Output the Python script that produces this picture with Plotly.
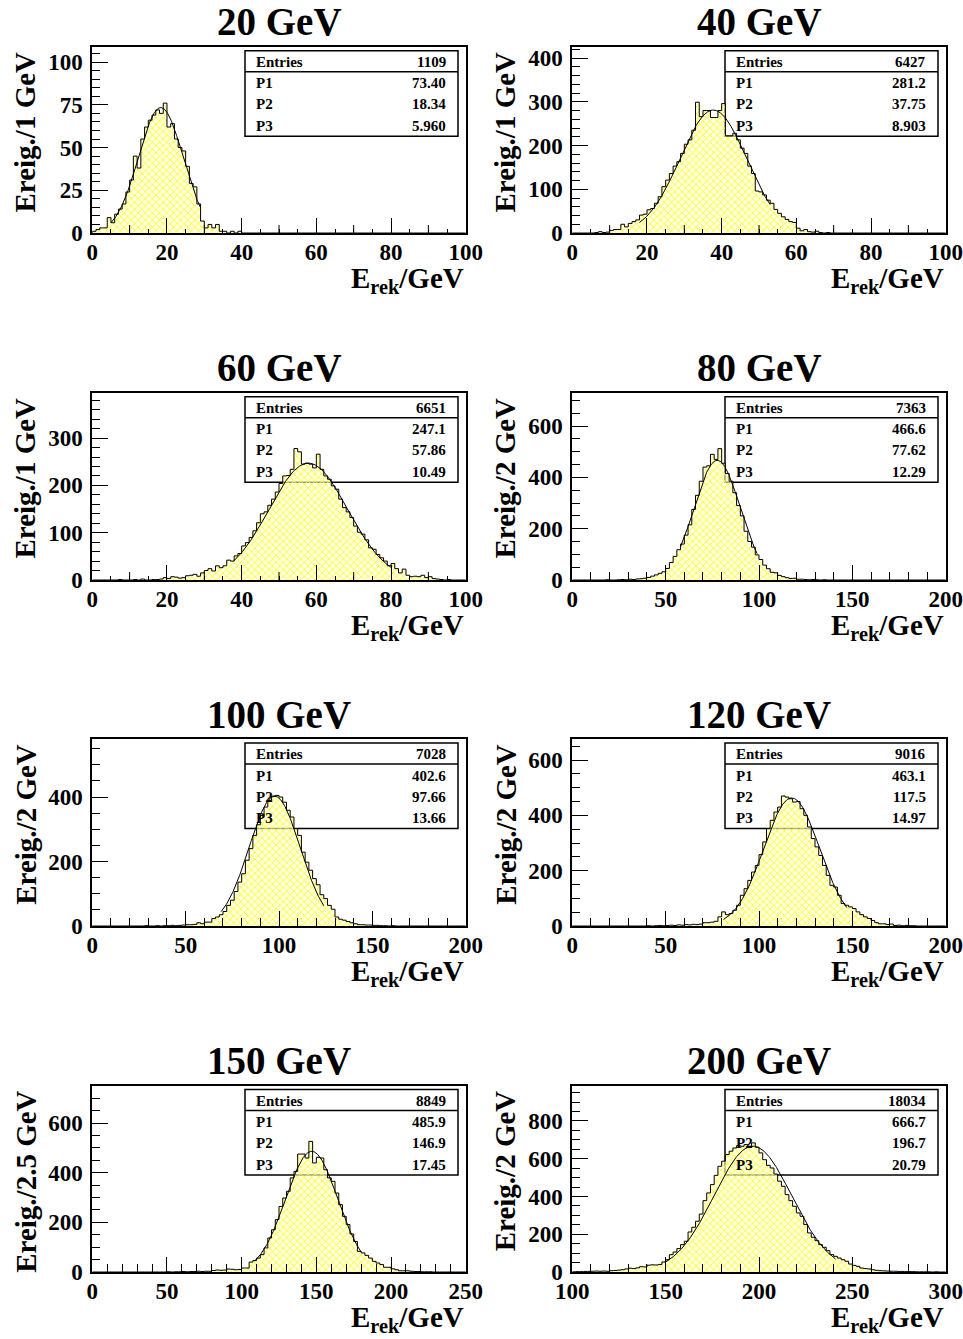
import numpy as np
import plotly.graph_objects as go

W, H = 963, 1339
FONT = "Liberation Serif"

# ---------------- data ----------------
titles = ["20 GeV", "40 GeV", "60 GeV", "80 GeV", "100 GeV", "120 GeV", "150 GeV", "200 GeV"]
ytitles = ["Ereig./1 GeV", "Ereig./1 GeV", "Ereig./1 GeV", "Ereig./2 GeV",
           "Ereig./2 GeV", "Ereig./2 GeV", "Ereig./2.5 GeV", "Ereig./2 GeV"]
x_lo = [0, 0, 0, 0, 0, 0, 0, 100]
x_hi = [100, 100, 100, 200, 200, 200, 250, 300]
y_hi = [109, 426, 396, 730, 580, 676, 751, 988]
n_bins = 100

entries = [1109, 6427, 6651, 7363, 7028, 9016, 8849, 18034]
p1 = [73.40, 281.2, 247.1, 466.6, 402.6, 463.1, 485.9, 666.7]
p2 = [18.34, 37.75, 57.86, 77.62, 97.66, 117.5, 146.9, 196.7]
p3 = [5.960, 8.903, 10.49, 12.29, 13.66, 14.97, 17.45, 20.79]
fit_lo = [5, 18, 38, 58, 69, 81, 109, 150]
fit_hi = [29, 53, 80, 99, 124, 147, 180, 241]

# bin contents (first populated bin index, then counts)
start_20 = 0
counts_20 = [1, 2, 3, 3, 9, 6, 11, 14, 17, 24, 31, 45, 38, 55, 62, 66, 69, 72, 70, 76,
             62, 64, 55, 50, 48, 39, 29, 27, 17, 7, 3, 5, 3, 5, 1, 1, 0, 1, 0, 1]
start_40 = 0
counts_40 = [0, 0, 0, 0, 0, 0, 1, 3, 1, 2, 6, 8, 8, 20, 14, 22, 26, 30, 41, 43,
             53, 56, 68, 83, 106, 121, 136, 153, 163, 182, 203, 213, 235, 299, 266, 280, 280, 264, 264, 280,
             296, 222, 222, 228, 213, 194, 182, 153, 136, 96, 94, 87, 75, 68, 54, 45, 37, 31, 26, 24,
             11, 5, 8, 3, 2, 4, 1, 0, 1]
start_60 = 0
counts_60 = [0, 0, 0, 0, 0, 0, 0, 1, 0, 0, 0, 1, 0, 2, 0, 0, 1, 1, 2, 5,
             3, 7, 6, 4, 5, 9, 10, 12, 8, 15, 20, 24, 19, 30, 26, 30, 42, 40, 51, 56,
             72, 79, 90, 104, 121, 140, 144, 158, 171, 186, 204, 220, 221, 234, 278, 271, 245, 247, 245, 237,
             266, 234, 220, 213, 199, 192, 171, 153, 144, 132, 114, 101, 97, 85, 68, 65, 54, 47, 40, 30,
             35, 24, 15, 23, 10, 7, 8, 7, 10, 5, 7, 3, 2, 1, 0, 1]
start_80 = 0
counts_80 = [0, 0, 0, 0, 0, 0, 0, 0, 0, 1, 0, 0, 1, 2, 1, 3, 2, 4, 5, 7,
             10, 15, 20, 26, 32, 45, 68, 92, 118, 140, 175, 215, 275, 330, 385, 440, 445, 490, 470, 512,
             455, 415, 385, 340, 290, 250, 190, 150, 128, 98, 80, 58, 44, 30, 28, 18, 13, 9, 6, 7,
             3, 3, 2, 1, 2, 1, 0, 1]
start_100 = 14
counts_100 = [1, 0, 0, 1, 0, 1, 1, 2, 1, 2, 3, 4, 4, 5, 10, 7, 12, 12,
              23, 28, 35, 45, 64, 80, 107, 136, 162, 204, 240, 281, 314, 343, 369, 390, 403, 405, 400, 384,
              359, 338, 302, 281, 229, 198, 173, 147, 128, 97, 85, 64, 52, 28, 21, 18, 14, 10, 7, 4,
              4, 3, 3, 2, 2, 1, 1, 0, 1]
start_120 = 20
counts_120 = [1, 0, 1, 2, 1, 2, 3, 2, 4, 3, 5, 4, 6, 5, 7, 12, 12, 14, 17, 33,
              51, 41, 45, 57, 75, 111, 135, 165, 195, 219, 258, 304, 352, 382, 412, 430, 470, 466, 460, 448,
              450, 424, 400, 358, 316, 286, 255, 219, 183, 147, 141, 111, 81, 75, 69, 63, 51, 41, 33, 27,
              20, 12, 8, 8, 5, 7, 2, 3, 1, 2, 1, 1]
start_150 = 20
counts_150 = [1, 0, 1, 1, 2, 1, 2, 2, 3, 2, 3, 3, 6, 8, 7, 8, 12, 11, 9, 10,
              16, 16, 40, 46, 56, 70, 97, 137, 170, 211, 264, 298, 325, 379, 405, 475, 475, 459, 526, 439,
              462, 459, 412, 379, 365, 318, 271, 224, 191, 153, 123, 83, 77, 67, 56, 43, 36, 30, 19, 19,
              13, 9, 5, 5, 5, 3, 2, 2, 1, 1, 1]
start_200 = 0
counts_200 = [1, 2, 2, 3, 3, 4, 5, 4, 5, 4, 7, 8, 10, 12, 16, 20, 18, 22, 28, 27,
              36, 38, 37, 40, 53, 65, 92, 106, 124, 145, 163, 212, 237, 269, 307, 378, 419, 463, 512, 560,
              587, 622, 640, 657, 670, 666, 675, 666, 684, 661, 631, 595, 565, 551, 519, 481, 454, 410, 378, 348,
              313, 295, 251, 207, 184, 166, 145, 131, 113, 92, 83, 74, 65, 57, 42, 35, 30, 21, 18, 16,
              12, 9, 7, 6, 5, 4, 4, 3, 3, 2, 2, 2, 1, 1, 1, 1, 0, 1]

starts = [start_20, start_40, start_60, start_80, start_100, start_120, start_150, start_200]
counts_all = [counts_20, counts_40, counts_60, counts_80, counts_100, counts_120, counts_150, counts_200]

# axis tick settings
x_major = [20, 20, 20, 50, 50, 50, 50, 50]
x_minor = [5, 5, 5, 10, 10, 10, 10, 10]
x_mid = [10, 10, 10, None, None, None, None, None]
y_major = [25, 100, 100, 200, 200, 200, 200, 200]
y_minor = [5, 20, 20, 50, 50, 50, 50, 50]

# ---------------- layout geometry (pixels) ----------------
col_left = [92.3, 572.3]
col_right = [465.7, 945.7]
row_top = [46.7, 392.7, 739.0, 1085.5]
row_bot = [233.0, 580.0, 926.0, 1272.0]


def px(x):
    return x / W


def py(y):
    return 1 - y / H


fig = go.Figure()
shapes = []
annotations = []
layout_axes = {}

for i in range(8):
    r, c = i // 2, i % 2
    L, R, T, B = col_left[c], col_right[c], row_top[r], row_bot[r]
    sfx = "" if i == 0 else str(i + 1)
    xa, ya = "x" + sfx, "y" + sfx

    counts = [0] * starts[i] + counts_all[i]
    counts = counts + [0] * (n_bins - len(counts))
    edges = np.linspace(x_lo[i], x_hi[i], n_bins + 1)
    hx = [edges[0]] + list(edges[:-1]) + [edges[-1], edges[-1]]
    hy = [0] + counts + [counts[-1], 0]

    fig.add_trace(go.Scatter(
        x=hx, y=hy, mode="lines", line=dict(color="black", width=1, shape="hv"),
        fill="tozeroy", fillcolor="rgba(255,255,255,0)",
        fillpattern=dict(shape="x", fgcolor="#ffff2a", bgcolor="rgba(255,255,205,0.6)",
                         size=5, solidity=0.32, fillmode="replace"),
        xaxis=xa, yaxis=ya, showlegend=False, hoverinfo="skip"))

    fx = np.linspace(fit_lo[i], fit_hi[i], 300)
    fy = p1[i] * np.exp(-0.5 * ((fx - p2[i]) / p3[i]) ** 2)
    fig.add_trace(go.Scatter(x=fx, y=fy, mode="lines", line=dict(color="black", width=1),
                             xaxis=xa, yaxis=ya, showlegend=False, hoverinfo="skip"))

    tickfont = dict(family=FONT, size=23, color="black", weight="bold")
    layout_axes["xaxis" + sfx] = dict(
        domain=[px(L), px(R)], anchor=ya, range=[x_lo[i], x_hi[i]], automargin=False,
        showline=True, mirror=True, linecolor="black", linewidth=2,
        showgrid=False, zeroline=False, ticks="inside", ticklen=15, tickwidth=1,
        tickcolor="black", dtick=x_major[i], tick0=0, tickfont=tickfont,
        ticklabelstandoff=-3,
        minor=dict(dtick=x_minor[i], tick0=0, ticks="inside", ticklen=4 if x_mid[i] else 8,
                   tickcolor="black", tickwidth=1, showgrid=False))
    layout_axes["yaxis" + sfx] = dict(
        domain=[py(B), py(T)], anchor=xa, range=[0, y_hi[i]], automargin=False,
        showline=True, mirror=True, linecolor="black", linewidth=2,
        showgrid=False, zeroline=False, ticks="inside", ticklen=16, tickwidth=1,
        tickcolor="black", dtick=y_major[i], tick0=0, tickfont=tickfont,
        ticklabelstandoff=3,
        minor=dict(dtick=y_minor[i], tick0=0, ticks="inside", ticklen=8,
                   tickcolor="black", tickwidth=1, showgrid=False))

    # medium x ticks
    if x_mid[i]:
        v = x_lo[i] + x_mid[i]
        while v < x_hi[i]:
            if (v - x_lo[i]) % x_major[i] != 0:
                shapes.append(dict(type="line", xref=xa, yref=ya + " domain", x0=v, x1=v,
                                   y0=0, y1=8 / (B - T), line=dict(color="black", width=1)))
            v += x_mid[i]

    # title
    annotations.append(dict(text=titles[i], x=px((L + R) / 2), y=py(T - 25), xref="paper", yref="paper",
                            xanchor="center", yanchor="middle", showarrow=False,
                            font=dict(family=FONT, size=39, color="black", weight="bold")))
    # y title
    annotations.append(dict(text=ytitles[i], x=px(L - 67), y=py(T + 3), xref="paper", yref="paper",
                            xanchor="center", yanchor="top", textangle=-90, showarrow=False,
                            font=dict(family=FONT, size=29, color="black", weight="bold")))
    # x title
    annotations.append(dict(text="E<sub>rek</sub>/GeV", x=px(R), y=py(B + 47), xref="paper", yref="paper",
                            xanchor="right", yanchor="middle", showarrow=False,
                            font=dict(family=FONT, size=29, color="black", weight="bold")))

    # stats box
    bl, br = R - 220.7, R - 7.7
    bt, bb = T + 4, T + 89.5
    shapes.append(dict(type="rect", xref="paper", yref="paper", x0=px(bl), x1=px(br), y0=py(bb), y1=py(bt),
                       line=dict(color="black", width=1.5), fillcolor="rgba(0,0,0,0)", layer="below"))
    shapes.append(dict(type="line", xref="paper", yref="paper", x0=px(bl), x1=px(br), y0=py(T + 25),
                       y1=py(T + 25), line=dict(color="black", width=1.5), layer="below"))
    rows = [("Entries", str(entries[i]), T + 15),
            ("P1", "{:#.4g}".format(p1[i]), T + 36.5),
            ("P2", "{:#.4g}".format(p2[i]), T + 57.5),
            ("P3", "{:#.4g}".format(p3[i]), T + 79)]
    sfont = dict(family=FONT, size=15, color="black", weight="bold")
    for lab, val, yy in rows:
        annotations.append(dict(text=lab, x=px(bl + 9), y=py(yy), xref="paper", yref="paper",
                                xanchor="left", yanchor="middle", showarrow=False, font=sfont))
        annotations.append(dict(text=val, x=px(br - 10), y=py(yy), xref="paper", yref="paper",
                                xanchor="right", yanchor="middle", showarrow=False, font=sfont))

fig.update_layout(width=W, height=H, margin=dict(l=0, r=0, t=0, b=0, autoexpand=False),
                  paper_bgcolor="white", plot_bgcolor="rgba(0,0,0,0)",
                  shapes=shapes, annotations=annotations, showlegend=False, **layout_axes)

fig.write_html("out.html")
